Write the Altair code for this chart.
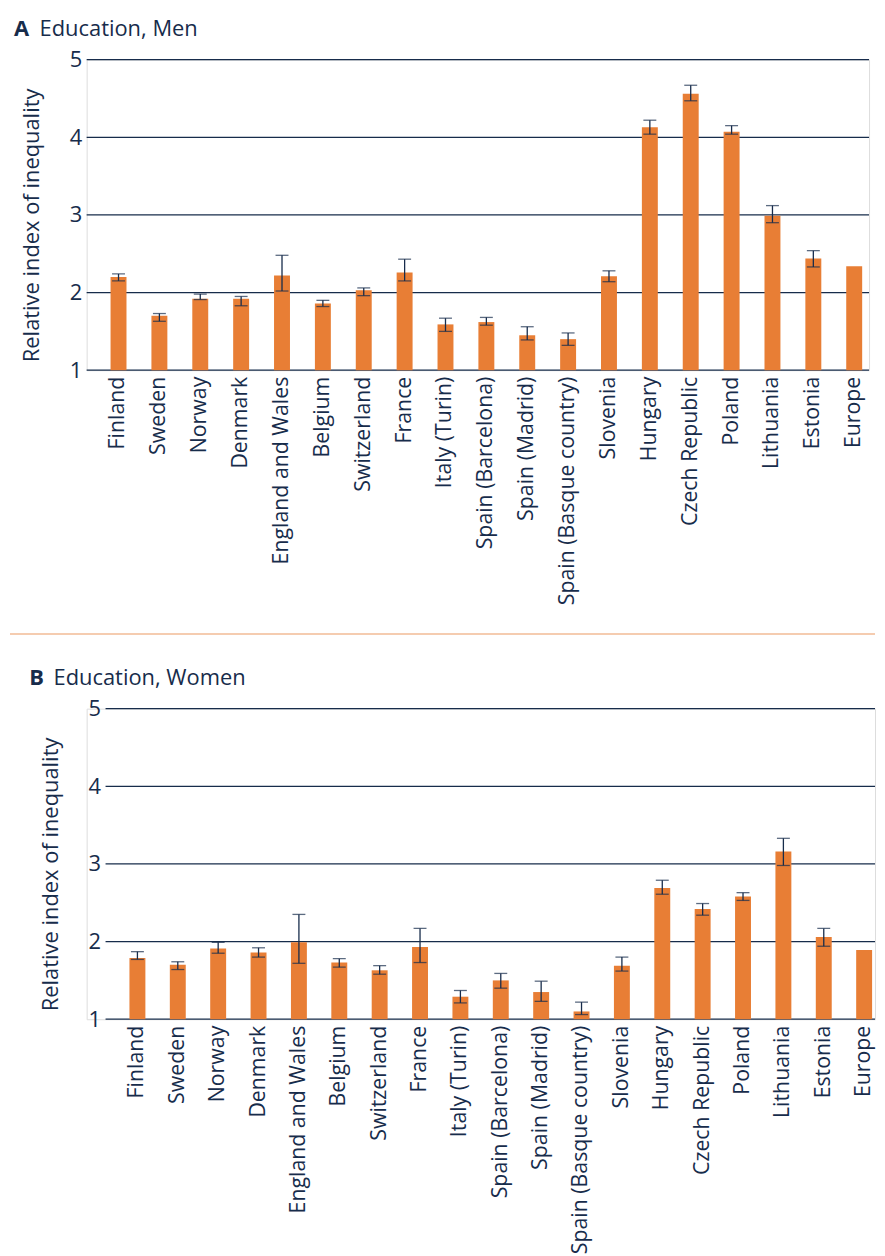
import altair as alt
import pandas as pd

countries = ["Finland", "Sweden", "Norway", "Denmark", "England and Wales", "Belgium",
             "Switzerland", "France", "Italy (Turin)", "Spain (Barcelona)", "Spain (Madrid)",
             "Spain (Basque country)", "Slovenia", "Hungary", "Czech Republic", "Poland",
             "Lithuania", "Estonia", "Europe"]

men_rii = [2.20, 1.70, 1.92, 1.92, 2.22, 1.86, 2.03, 2.26, 1.59, 1.62, 1.45, 1.40,
           2.21, 4.13, 4.56, 4.07, 2.99, 2.44, 2.34]
men_lo = [2.15, 1.63, 1.91, 1.83, 2.02, 1.82, 1.96, 2.15, 1.50, 1.58, 1.39, 1.32,
          2.14, 4.04, 4.47, 4.04, 2.90, 2.33, None]
men_hi = [2.24, 1.73, 1.98, 1.95, 2.48, 1.90, 2.06, 2.43, 1.67, 1.68, 1.56, 1.48,
          2.28, 4.22, 4.67, 4.15, 3.12, 2.54, None]

women_rii = [1.79, 1.70, 1.91, 1.86, 1.99, 1.73, 1.63, 1.93, 1.29, 1.50, 1.35, 1.10,
             1.69, 2.69, 2.42, 2.58, 3.16, 2.06, 1.89]
women_lo = [1.77, 1.64, 1.85, 1.80, 1.72, 1.67, 1.58, 1.73, 1.21, 1.40, 1.23, 1.06,
            1.62, 2.61, 2.34, 2.53, 2.98, 1.94, None]
women_hi = [1.87, 1.74, 1.99, 1.92, 2.35, 1.78, 1.69, 2.17, 1.37, 1.59, 1.49, 1.22,
            1.80, 2.79, 2.49, 2.63, 3.33, 2.17, None]

y_ticks = [1, 2, 3, 4, 5]
y_title = "Relative index of inequality"
panel_letters = ["A", "B"]
panel_titles = ["Education, Men", "Education, Women"]

NAVY = "#172c4b"
ORANGE = "#e87e35"
FONT = "Open Sans"
FS = 22
XFS = 21.4


def panel(rii, lo, hi, letter, title, width, grid_x0, axis_offset, pad_inner, pad_outer,
          align, lx, tx, sep=False):
    df = pd.DataFrame({"country": countries, "rii": rii, "lo": lo, "hi": hi})
    xenc = alt.X("country:N", sort=countries, title=None,
                 scale=alt.Scale(paddingInner=pad_inner, paddingOuter=pad_outer, align=align),
                 axis=alt.Axis(labelAngle=270, labelFont=FONT, labelFontSize=XFS,
                               labelColor=NAVY, labelPadding=6, ticks=False, tickSize=0,
                               domain=False, grid=False, labelOverlap=False, labelLimit=600))
    yscale = alt.Scale(domain=[1, 5], nice=False, zero=False)
    yaxis = alt.Axis(values=y_ticks, format="d", grid=False, ticks=False, tickSize=0,
                     domain=False, labelFont=FONT, labelFontSize=FS, labelColor=NAVY,
                     labelPadding=5, offset=axis_offset, title=y_title, titleFont=FONT,
                     titleFontSize=FS, titleFontWeight="normal", titleColor=NAVY,
                     titlePadding=26, titleY=166)

    grid = alt.Chart(pd.DataFrame({"v": y_ticks})).mark_rule(
        color=NAVY, strokeWidth=1.2).encode(
        y=alt.Y("v:Q", scale=yscale, axis=yaxis),
        x=alt.value(grid_x0), x2=alt.value(width))

    bars = alt.Chart(df).mark_bar(color=ORANGE).encode(
        x=xenc, y=alt.Y("rii:Q", scale=yscale, axis=yaxis), y2=alt.datum(1))

    err = alt.Chart(df).transform_filter("isValid(datum.lo)")
    err_rule = err.mark_rule(color=NAVY, strokeWidth=1.3).encode(
        x=xenc, y=alt.Y("lo:Q", scale=yscale, axis=yaxis), y2="hi:Q")
    cap_lo = err.mark_tick(color=NAVY, thickness=1.3, size=13).encode(
        x=xenc, y=alt.Y("lo:Q", scale=yscale, axis=yaxis))
    cap_hi = err.mark_tick(color=NAVY, thickness=1.3, size=13).encode(
        x=xenc, y=alt.Y("hi:Q", scale=yscale, axis=yaxis))

    t_letter = alt.Chart(pd.DataFrame({"t": [letter]})).mark_text(
        align="left", baseline="alphabetic", font=FONT, fontSize=FS, fontWeight="bold",
        color=NAVY).encode(text="t:N", x=alt.value(lx), y=alt.value(-24))
    t_title = alt.Chart(pd.DataFrame({"t": [title]})).mark_text(
        align="left", baseline="alphabetic", font=FONT, fontSize=FS,
        color=NAVY).encode(text="t:N", x=alt.value(tx), y=alt.value(-24))

    layers = [grid, bars, err_rule, cap_lo, cap_hi, t_letter, t_title]
    if sep:
        sep_rule = alt.Chart(pd.DataFrame({"s": [0]})).mark_rule(
            color="#eb9a62", strokeWidth=1.2).encode(
            x=alt.value(-77), x2=alt.value(width), y=alt.value(-75))
        layers.append(sep_rule)
    return alt.layer(*layers).properties(width=width, height=312)


pA = panel(men_rii, men_lo, men_hi, "A", panel_titles[0], 786, 0, 0,
           0.61, 0.3765, 0.777, -73, -47.3)
pB = panel(women_rii, women_lo, women_hi, "B", panel_titles[1], 792, 19, -19,
           0.6055, 0.5663, 0.9364, -57.7, -33.3, sep=True)

chart = alt.vconcat(pA, pB, spacing=26).properties(
    padding={"left": 0, "top": 6, "right": 0, "bottom": 0}
).configure_view(stroke=None).configure(background="white")

chart.save("out.html", embed_options={"renderer": "svg", "actions": False})
